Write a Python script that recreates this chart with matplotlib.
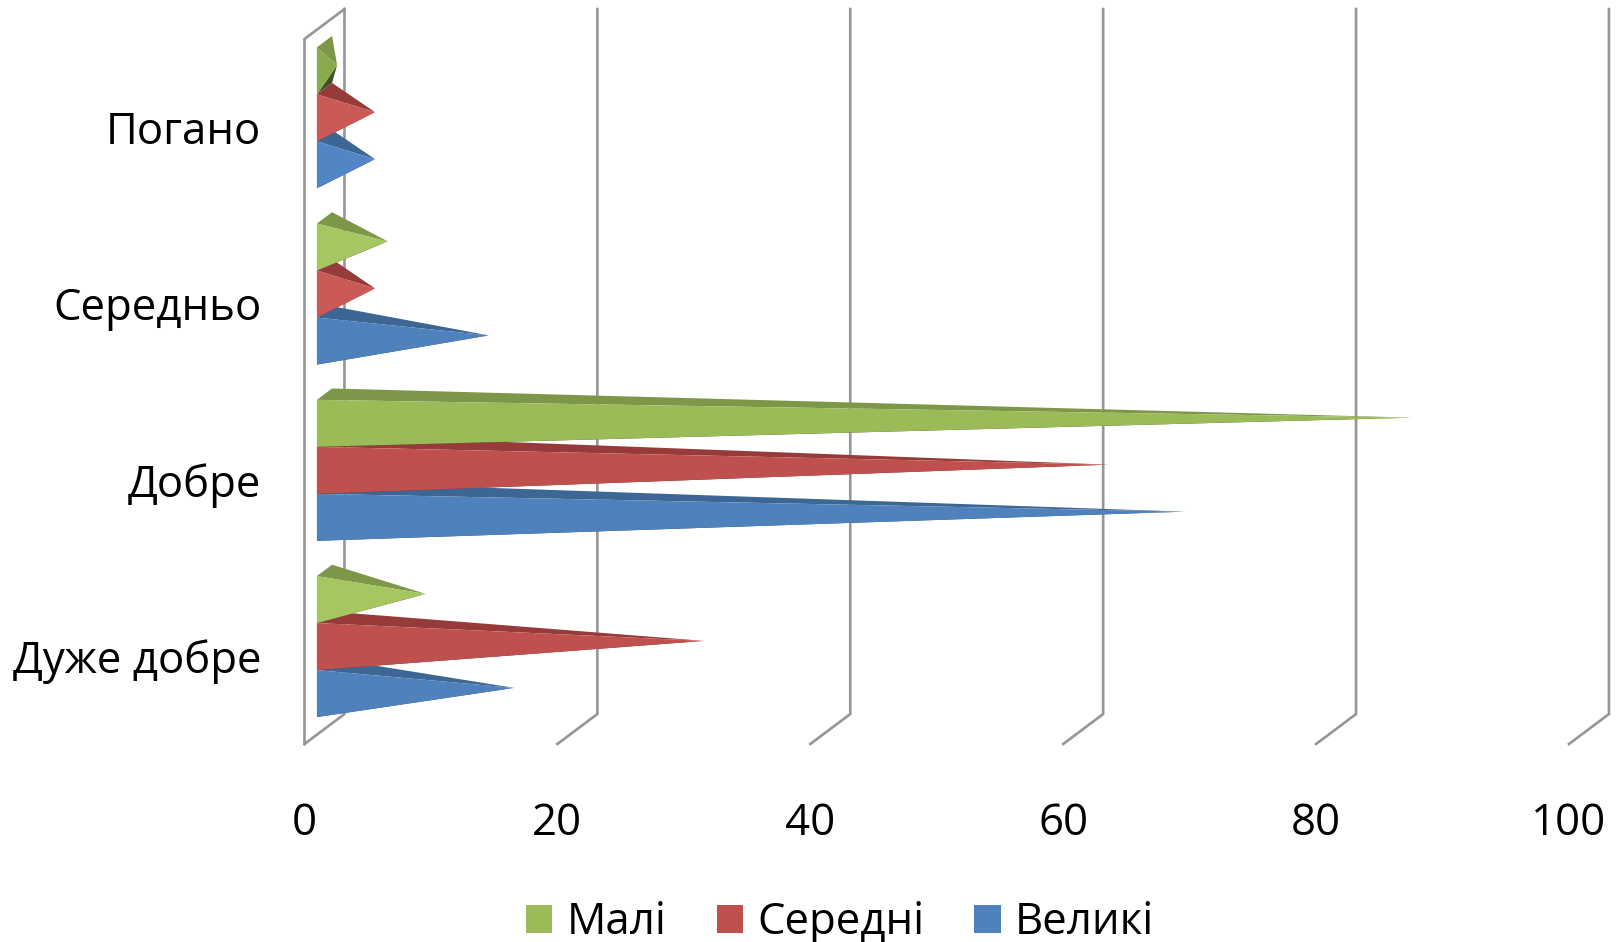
import matplotlib
matplotlib.use('Agg')
import matplotlib.pyplot as plt
from matplotlib.patches import Patch, Polygon
from matplotlib.transforms import ScaledTranslation

plt.rcParams['font.family'] = ['Open Sans', 'Noto Sans', 'DejaVu Sans']

# Data, bottom category first
categories = ['Дуже добре', 'Добре', 'Середньо', 'Погано']
velyki = [15, 68, 13, 4]
seredni = [30, 62, 4, 4]
mali = [8, 86, 5, 1]
x_ticks = [0, 20, 40, 60, 80, 100]

series_names = ['Великі', 'Середні', 'Малі']
series_values = [velyki, seredni, mali]
legend_colors = ['#4F81BD', '#C0504D', '#9BBB59']
top_colors = ['#3C6694', '#963B39', '#7C9748']
under_colors = ['#2A4A6E', '#6E2A28', '#3F5426']
# the small cones catch more light in the original
front_colors = [['#4F81BD', '#4F81BD', '#4F81BD', '#5385C6'],
                ['#C0504D', '#C0504D', '#CB5A57', '#CB5A57'],
                ['#A6C662', '#9BBB59', '#A6C662', '#8AAA4E']]

# Fake 3D: how far the back wall is shifted from the front, in data units
DEPTH_X = 3.16
DEPTH_Y = 0.17
GAP = 0.1
BAR_H = (1 - 2 * GAP) / 3
FRONT = 0.31
BACK = 0.69
GRID = '#969696'
FONT = 31.5


def proj(x, y, d):
    return (x + d * DEPTH_X, y + d * DEPTH_Y)


fig = plt.figure(figsize=(16.18, 9.42), dpi=100)
ax = fig.add_axes([304.5 / 1618, (942 - 744) / 942, 1264.5 / 1618, 705 / 942])
ax.set_xlim(0, 100)
ax.set_ylim(0, 4)

# walls
for x in x_ticks:
    ax.plot(*zip(proj(x, 0, 0), proj(x, 0, 1), proj(x, 4, 1)), color=GRID, lw=1.9,
            clip_on=False, zorder=1, solid_joinstyle='miter')
ax.plot(*zip(proj(0, 0, 0), proj(0, 4, 0), proj(0, 4, 1)), color=GRID, lw=1.9,
        clip_on=False, zorder=1, solid_joinstyle='miter')

# cones, lowest first so the upper ones sit on top
z = 2
for i in range(len(categories)):
    for j in range(len(series_values)):
        v = series_values[j][i]
        y0 = i + GAP + j * BAR_H
        y1 = y0 + BAR_H
        tip = proj(v, (y0 + y1) / 2, 0.5)
        under = [proj(0, y0, FRONT), proj(0, y0, BACK), tip]
        top = [proj(0, y1, FRONT), proj(0, y1, BACK), tip]
        front = [proj(0, y0, FRONT), proj(0, y1, FRONT), tip]
        for pts, col in [(under, under_colors[j]), (top, top_colors[j]), (front, front_colors[j][i])]:
            ax.add_patch(Polygon(pts, closed=True, facecolor=col, edgecolor='none',
                                 clip_on=False, zorder=z))
            z += 1

ax.set_xticks(x_ticks)
ax.set_yticks([i + 0.5 for i in range(len(categories))])
ax.set_yticklabels(categories)
ax.tick_params(axis='x', length=0, pad=41.3, labelsize=FONT, labelcolor='black')
ax.tick_params(axis='y', length=0, pad=31, labelsize=FONT, labelcolor='black')
for s in ax.spines.values():
    s.set_visible(False)

handles = [Patch(facecolor=legend_colors[j], edgecolor='none', label=series_names[j]) for j in [2, 1, 0]]
fig.legend(handles=handles, loc='center', bbox_to_anchor=(840 / 1618, 1 - 923 / 942), ncol=3,
           frameon=False, fontsize=FONT, handlelength=0.6, handleheight=0.6,
           handletextpad=0.32, columnspacing=1.15, borderpad=0)

fig.savefig('out.png', dpi=100, facecolor='white')
